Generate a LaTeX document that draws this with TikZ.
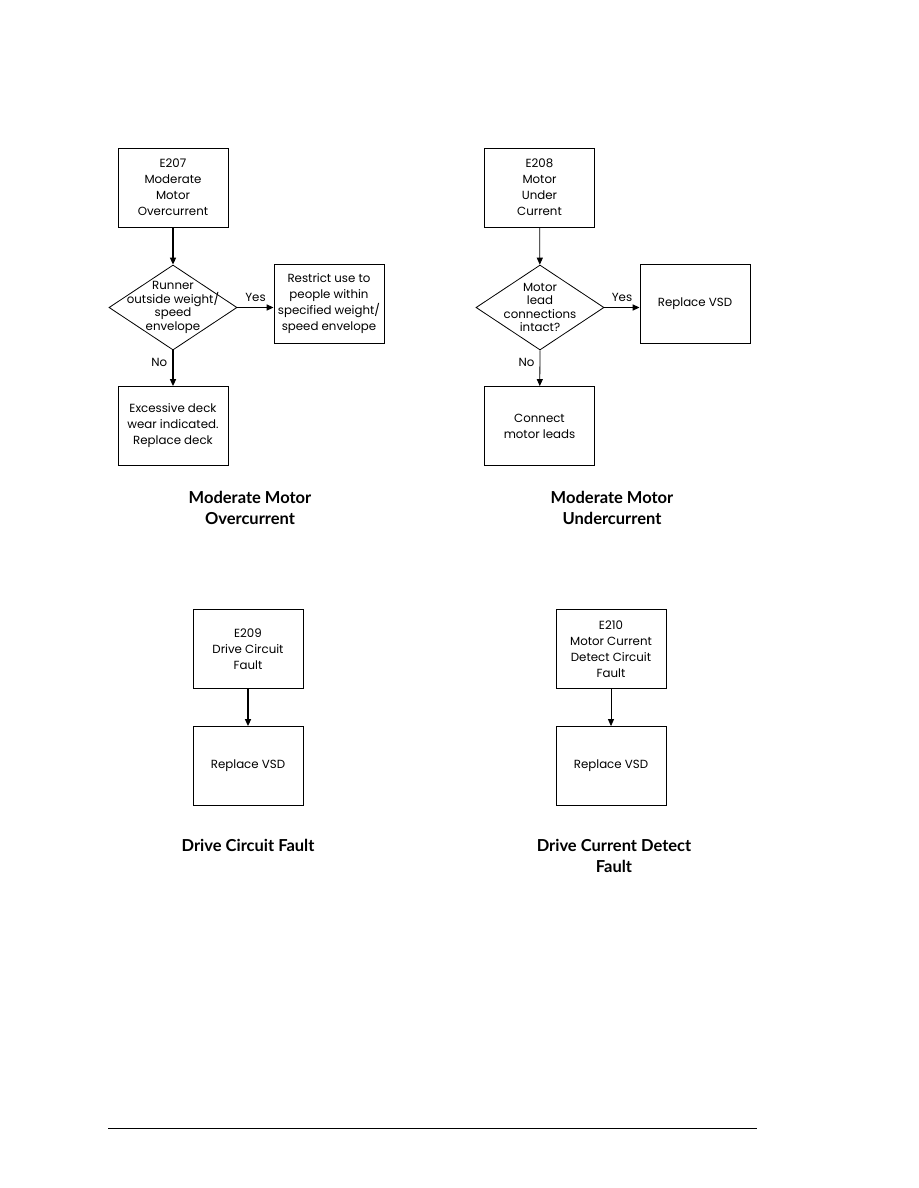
\documentclass[tikz,border=0pt]{standalone}
\usepackage{fontspec}
\setmainfont{Poppins}
\newfontfamily\titlefont{Lato}
\usetikzlibrary{shapes.geometric,arrows.meta}
\begin{document}
\begin{tikzpicture}[x=1pt,y=-1pt,
  every node/.style={font=\fontsize{11.8}{16}\selectfont, align=center, inner sep=0pt},
  boxnode/.style={draw, line width=0.8pt, minimum width=110pt, minimum height=79pt},
  decision/.style={draw, line width=0.8pt, diamond, minimum width=128pt, minimum height=85pt},
  dtext/.style={font=\fontsize{11.8}{13.5}\selectfont},
  flow/.style={-{Triangle[length=7pt,width=6pt]}, line width=1.5pt},
  thinflow/.style={-{Triangle[length=7pt,width=6pt]}, line width=0.8pt},
  lbl/.style={font=\fontsize{11.8}{14}\selectfont},
  title/.style={font=\titlefont\bfseries\fontsize{16.5}{21}\selectfont}]
\useasboundingbox (0,0) rectangle (918,1188);
\fill[white] (0,0) rectangle (918,1188);

% ---- E207 ----
\node[boxnode] (a1) at (173,187.5) {E207\\Moderate\\Motor\\Overcurrent};
\node[decision] (a2) at (173,307.5) {};
\node[dtext] at (173,307.5) {Runner\\outside weight/\\speed\\envelope};
\node[boxnode] (a3) at (329,303.5) {Restrict use to\\people within\\specified weight/\\speed envelope};
\node[boxnode] (a4) at (173,426) {Excessive deck\\wear indicated.\\Replace deck};
\draw[flow] (a1) -- (a2);
\draw[flow] (a2.east) -- node[lbl, above=5pt] {Yes} (a3.west |- a2.east);
\draw[flow] (a2.south) -- node[lbl, left=5pt, pos=0.35] {No} (a4);
\node[title] (t1) at (250,507.5) {Moderate Motor\\Overcurrent};

% ---- E208 ----
\node[boxnode] (b1) at (539.5,187.5) {E208\\Motor\\Under\\Current};
\node[decision] (b2) at (540,307.5) {};
\node[dtext] at (540,307.5) {Motor\\lead\\connections\\intact?};
\node[boxnode] (b3) at (695,303.5) {Replace VSD};
\node[boxnode] (b4) at (539.5,426) {Connect\\motor leads};
\draw[thinflow] (b1) -- (b2);
\draw[flow] (b2.east) -- node[lbl, above=5pt] {Yes} (b3.west |- b2.east);
\draw[thinflow] (b2.south) -- node[lbl, left=5pt, pos=0.35] {No} (b4);
\node[title] (t2) at (612,507.5) {Moderate Motor\\Undercurrent};

% ---- E209 ----
\node[boxnode] (c1) at (248,649) {E209\\Drive Circuit\\Fault};
\node[boxnode] (c2) at (248,766) {Replace VSD};
\draw[flow] (c1) -- (c2);
\node[title] (t3) at (248,845) {Drive Circuit Fault};

% ---- E210 ----
\node[boxnode] (d1) at (611,649) {E210\\Motor Current\\Detect Circuit\\Fault};
\node[boxnode] (d2) at (611,766) {Replace VSD};
\draw[thinflow] (d1) -- (d2);
\node[title] (t4) at (614,855.5) {Drive Current Detect\\Fault};

% footer rule
\coordinate (r1) at (108,1128);
\coordinate (r2) at (757,1128);
\draw[line width=1pt] (r1) -- (r2);
\end{tikzpicture}
\end{document}
